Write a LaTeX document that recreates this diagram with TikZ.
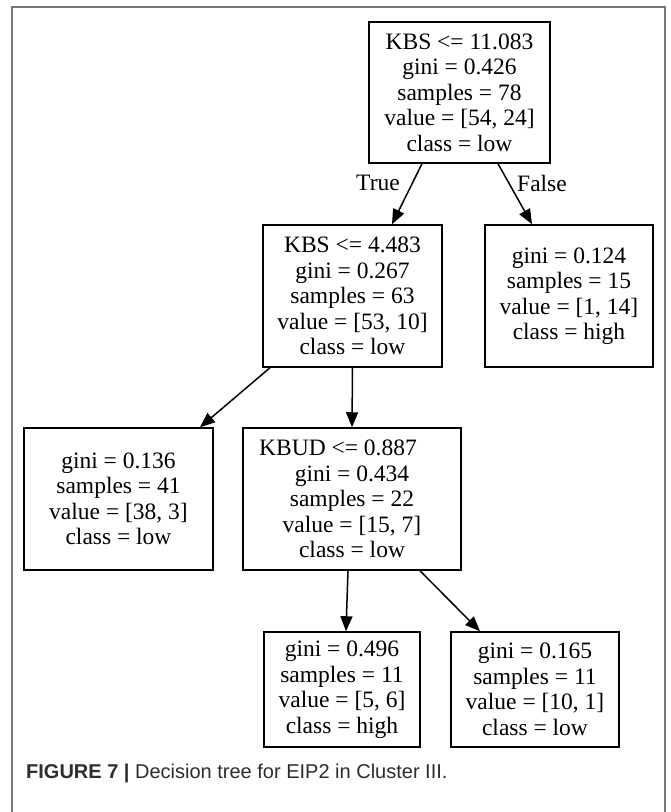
\documentclass[tikz,border=0pt]{standalone}
\usepackage{fontspec}
\setmainfont{Liberation Serif}
\newfontfamily\capfont{Liberation Sans}
\usetikzlibrary{arrows.meta}
\definecolor{framecol}{RGB}{120,120,120}
\definecolor{capcol}{RGB}{45,45,45}
\tikzset{
  treebox/.style={draw=black, line width=1.5pt, align=center, inner sep=0pt,
    font=\fontsize{23.5}{25.5}\selectfont},
  edgearrow/.style={line width=1.5pt, -{Triangle[length=15pt,width=12pt]}},
  edgelabel/.style={font=\fontsize{23.5}{25.5}\selectfont, inner sep=0pt}
}
\begin{document}
\begin{tikzpicture}[x=1pt,y=-1pt]
\useasboundingbox (0,0) rectangle (670,812);
\fill[white] (0,0) rectangle (670,812);
\draw[framecol, line width=1.3pt] (12,830) -- (12,7) -- (665,7) -- (665,830);

\node[treebox, minimum width=181pt, minimum height=141pt] (root) at (459.5,92.5)
  {KBS <= 11.083\\gini = 0.426\\samples = 78\\value = [54, 24]\\class = low};
\node[treebox, minimum width=179pt, minimum height=142pt] (lc) at (352.5,296)
  {KBS <= 4.483\\gini = 0.267\\samples = 63\\value = [53, 10]\\class = low};
\node[treebox, minimum width=168pt, minimum height=142pt] (rc) at (569,296)
  {gini = 0.124\\samples = 15\\value = [1, 14]\\class = high};
\node[treebox, minimum width=189pt, minimum height=142pt] (leafa) at (118.5,499)
  {gini = 0.136\\samples = 41\\value = [38, 3]\\class = low};
\node[treebox, minimum width=218pt, minimum height=142pt] (kbud) at (352,499)
  {KBUD <= 0.887\hspace*{28pt}\\gini = 0.434\\samples = 22\\value = [15, 7]\\class = low};
\node[treebox, minimum width=156pt, minimum height=115pt] (bl) at (342,689.5)
  {gini = 0.496\\samples = 11\\value = [5, 6]\\class = high};
\node[treebox, minimum width=168pt, minimum height=115pt] (br) at (535,689.5)
  {gini = 0.165\\samples = 11\\value = [10, 1]\\class = low};

\draw[edgearrow] ([xshift=-37.5pt]root.south) -- ([xshift=39.5pt]lc.north);
\draw[edgearrow] ([xshift=38.5pt]root.south) -- ([xshift=-37pt]rc.north);
\draw[edgearrow] ([xshift=-82.5pt]lc.south) -- ([xshift=81.5pt]leafa.north);
\draw[edgearrow] (lc.south) -- (kbud.north);
\draw[edgearrow] ([xshift=-4pt]kbud.south) -- ([xshift=4pt]bl.north);
\draw[edgearrow] ([xshift=68pt]kbud.south) -- ([xshift=-55pt]br.north);

\node[edgelabel] (ltrue) at (378,183) {True};
\node[edgelabel] (lfalse) at (542,183) {False};

\node[anchor=west, inner sep=0pt, text=capcol, font=\capfont\fontsize{20}{23}\selectfont] (caption) at (26,773)
  {{\bfseries FIGURE 7 |} Decision tree for EIP2 in Cluster III.};
\end{tikzpicture}
\end{document}
